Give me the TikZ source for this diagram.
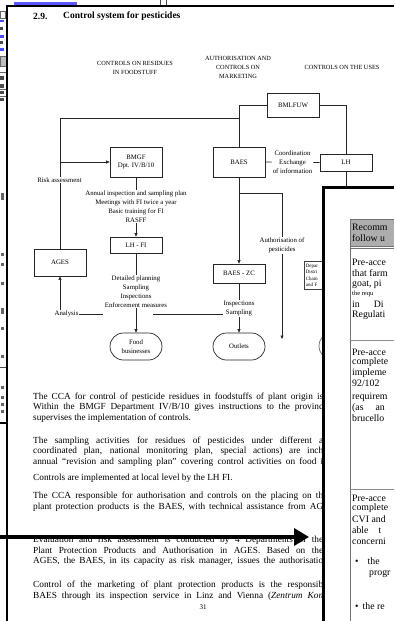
\documentclass[tikz,border=0pt]{standalone}
\usepackage{fontspec}
\setmainfont{Liberation Serif}
\usetikzlibrary{arrows.meta,shapes.misc}
\pgfdeclarelayer{back}
\pgfdeclarelayer{bg}
\pgfdeclarelayer{fg}
\pgfsetlayers{back,bg,main,fg}
\newcommand{\dfont}{\fontsize{6.8}{8.9}\selectfont}
\newcommand{\hfont}{\fontsize{6.3}{9}\selectfont}
\newcommand{\bfont}{\fontsize{9.3}{11}\selectfont}
\newcommand{\pfont}{\fontsize{9.8}{11}\selectfont}
\newcommand{\jl}[2][290pt]{\makebox[#1][s]{#2}}
\begin{document}
\begin{tikzpicture}[x=1pt,y=-1pt,
  ln/.style={line width=0.6pt,draw=black!85},
  arr/.style={ln,-{Triangle[length=3.5pt,width=3pt]}},
  box/.style={draw=black!85,line width=0.7pt,fill=white,minimum width=52pt,inner sep=0pt,align=center,font=\dfont},
  stad/.style={box,rounded rectangle,minimum height=27pt},
  lab/.style={align=center,font=\dfont,inner sep=0.8pt,fill=white},
  head/.style={align=center,font=\hfont,inner sep=0pt},
  body/.style={anchor=west,inner sep=0pt,font=\bfont},
  ptxt/.style={anchor=west,inner sep=0pt,font=\pfont},
]
\useasboundingbox (0,0) rectangle (394,621);
\begin{pgfonlayer}{back}
\fill[white] (0,0) rectangle (394,621);
\end{pgfonlayer}

% ---- left strip (window behind) ----
\fill[blue!65] (14,2) rectangle (77,5);
\draw[black!70,line width=0.6pt] (160,0) -- (160,6);
\draw[black!70,line width=0.6pt] (166,0) -- (166,6);
\draw[black!60,line width=0.5pt] (0,11) rectangle (5,18);
\fill[blue!70] (0,20) rectangle (4,22);
\fill[black!70] (0,27) rectangle (3,30);
\fill[blue!70] (0,35) rectangle (4,38);
\fill[black!70] (0,41) rectangle (3,44);
\fill[blue!70] (0,48) rectangle (4,51);
\fill[black!25] (0,56) rectangle (6,66);
\draw[black!60,line width=0.5pt] (0,56) rectangle (6,66);
\draw[black!60,line width=0.5pt] (0,72) -- (6,72);
\fill[black!70] (0,76) rectangle (4,80);
\fill[black!70] (0,84) rectangle (4,88);
\draw[black!60,line width=0.5pt] (0,89) -- (6,89);
\fill[black!70] (0,91) rectangle (4,94);
\draw[black!60,line width=0.5pt] (0,96) -- (6,96);
\fill[black!70] (0,98) rectangle (4,101);
\fill[black!60] (1,193) rectangle (4,200);
\fill[black!60] (1,253) rectangle (4,256);
\fill[black!60] (1,263) rectangle (4,266);
\fill[black!60] (1,282) rectangle (4,285);
\fill[black!60] (1,308) rectangle (4,314);
\fill[black!60] (1,327) rectangle (4,330);
\fill[black!60] (1,355) rectangle (4,358);
\draw[black!70,line width=0.6pt] (0,367) -- (6,367);
\fill[black!60] (1,386) rectangle (4,389);
\fill[black!60] (1,396) rectangle (4,399);
\fill[black!60] (1,403) rectangle (4,406);
\fill[black!60] (1,410) rectangle (4,413);
\draw[black,line width=1.5pt] (0,423) -- (7,423);

% ---- page frame ----
\draw[black,line width=2.5pt] (7,621) -- (7,6) -- (394,6);

% ---- title ----
\node[anchor=west,inner sep=0pt,font=\bfseries\fontsize{9.5}{11}\selectfont] (tnum) at (33,16) {2.9.};
\node[anchor=west,inner sep=0pt,font=\bfseries\fontsize{9.5}{11}\selectfont] (title) at (63,16) {Control system for pesticides};

% ---- headings ----
\node[head] (h1) at (135,67.5) {CONTROLS ON RESIDUES\\IN FOODSTUFF};
\node[head] (h2) at (238,67) {AUTHORISATION AND\\CONTROLS ON\\MARKETING};
\node[head] (h3) at (342,67) {CONTROLS ON THE USES};

% ---- boxes ----
\node[box,minimum height=24pt] (bml) at (293,105) {BMLFUW};
\node[box,minimum height=30pt] (baes) at (239,162) {BAES};
\node[box,minimum height=17pt] (lh) at (346,162.5) {LH};
\node[box,minimum height=19pt] (bzc) at (239,273.5) {BAES - ZC};
\node[box,minimum height=30pt] (bmgf) at (136,162) {BMGF\\Dpt. IV/B/10};
\node[box,minimum height=16pt] (lhfi) at (136,245) {LH - FI};
\node[box,minimum height=27pt] (ages) at (60,262.5) {AGES};
\node[stad] (food) at (136,346.5) {Food\\businesses};
\node[stad] (out) at (239,346.5) {Outlets};
\node[stad,draw=black!60] (use) at (345,346) {};
\node[draw=black!75,line width=0.6pt,fill=white,anchor=north west,text width=36pt,minimum height=28pt,inner sep=1.5pt,align=left,font=\fontsize{5}{6.4}\selectfont] (dep) at (304,261) {Depar\\Distri\\Cham\\and F};

% ---- labels ----
\node[lab] (annual) at (136,206.5) {Annual inspection and sampling plan\\Meetings with FI twice a year\\Basic training for FI\\RASFF};
\node[lab] (detail) at (136,291.5) {Detailed planning\\Sampling\\Inspections\\Enforcement measures};
\node[lab] (insp) at (239,308.5) {Inspections\\Sampling};
\node[lab] (an) at (66.5,314) {Analysis};
\node[lab] (risk) at (59.5,180) {Risk assessment};
\node[lab] (coord) at (292.5,162) {Coordination\\Exchange\\of information};
\node[lab] (auth) at (282,245.5) {Authorisation of\\pesticides};

% ---- connectors ----
\begin{pgfonlayer}{bg}
\coordinate (j1) at (239,118);
\coordinate (j2) at (60,162);
\coordinate (j3) at (239,193);
\coordinate (aend) at (282,339);
\coordinate (lhd) at (346,195);
\coordinate (gapL) at (103,314);
\coordinate (gapR) at (153,314);
\draw[ln] (bml.west) -| (baes.north);
\draw[ln] (j1) -| (ages.north);
\draw[arr] (j2) -- (bmgf.west);
\draw[ln] (bml.east) -| (lh.north);
\draw[ln] (baes.east) -- (lh.west);
\draw[ln] (lh.south) -- (lhd);
\draw[ln] (bmgf.south) -- (annual.north);
\draw[arr] (annual.south) -- (lhfi.north);
\draw[ln] (lhfi.south) -- (detail.north);
\draw[arr] (detail.south) -- (food.north);
\draw[arr] (baes.south) -- (bzc.north);
\draw[arr] (j3) -| (aend);
\draw[ln] (bzc.south) -- (insp.north);
\draw[arr] (insp.south) -- (out.north);
\draw[arr] (ages.south |- an.north) -- (ages.south);
\draw[ln] (an.east) -- (gapL);
\draw[ln] (gapR) -- (an.east -| insp.west);
\end{pgfonlayer}

% ---- body text ----
\node[body] (l1) at (33,397) {\jl{The CCA for control of pesticide residues in foodstuffs of plant origin is}};
\node[body] (l2) at (33,407.5) {\jl{Within the BMGF Department IV/B/10 gives instructions to the provinc}};
\node[body] (l3) at (33,418) {supervises the implementation of controls.};
\node[body] (l4) at (33,441) {\jl{The sampling activities for residues of pesticides under different a}};
\node[body] (l5) at (33,451.5) {\jl{coordinated plan, national monitoring plan, special actions) are inch}};
\node[body] (l6) at (33,462) {\jl{annual “revision and sampling plan” covering control activities on food i}};
\node[body] (l7) at (33,478.5) {Controls are implemented at local level by the LH FI.};
\node[body] (l8) at (33,496.5) {\jl{The CCA responsible for authorisation and controls on the placing on th}};
\node[body] (l9) at (33,507) {\jl{plant protection products is the BAES, with technical assistance from AG}};
\node[body] (l10) at (33,540) {\jl{Evaluation and risk assessment is conducted by 4 Departments of the}};
\node[body] (l11) at (33,550.5) {\jl{Plant Protection Products and Authorisation in AGES. Based on the}};
\node[body] (l12) at (33,561.5) {\jl{AGES, the BAES, in its capacity as risk manager, issues the authorisatio}};
\node[body] (l13) at (33,585) {\jl{Control of the marketing of plant protection products is the responsib}};
\node[body] (l14) at (33,596.5) {\jl{BAES through its inspection service in Linz and Vienna (\textit{Zentrum Kon}}};
\node[inner sep=0pt,font=\fontsize{7}{8}\selectfont] (pg) at (203,607) {31};

% ---- big arrow ----
\coordinate (as) at (0,537);
\coordinate (ae) at (309,537);
\draw[black,line width=3.5pt,-{Triangle[length=15pt,width=17pt]}] (as) -- (ae);

% ---- right panel (front window) ----
\begin{pgfonlayer}{fg}
\begin{scope}
\clip (323,187) rectangle (394,621);
\fill[white] (323,187) rectangle (394,621);
\fill[black!32] (350,219) rectangle (394,246);
\draw[black!55,line width=0.6pt] (350,219) -- (394,219);
\draw[black!55,line width=0.6pt] (350,246) -- (394,246);
\draw[black!55,line width=0.6pt] (350,248) -- (394,248);
\draw[black!55,line width=0.6pt] (350,219) -- (350,621);
\draw[black!45,line width=0.6pt] (350,340) -- (394,340);
\draw[black!45,line width=0.6pt] (350,489) -- (394,489);
\node[ptxt] (r0) at (352,227) {Recomm};
\node[ptxt] (r1) at (352,238) {follow u};
\node[ptxt] (a1) at (352,262) {Pre-acce};
\node[ptxt] (a2) at (352,273) {that farm};
\node[ptxt] (a3) at (352,284) {goat, pi};
\node[ptxt,font=\fontsize{6.5}{8}\selectfont] (a4) at (352,294) {the requ};
\node[ptxt] (a5) at (352,304) {in\hspace{14pt}Di};
\node[ptxt] (a6) at (352,315) {Regulati};
\node[ptxt] (b1) at (352,352) {Pre-acce};
\node[ptxt] (b2) at (352,362) {complete};
\node[ptxt] (b3) at (352,373) {impleme};
\node[ptxt] (b4) at (352,383) {92/102};
\node[ptxt] (b5) at (352,397) {requirem};
\node[ptxt] (b6) at (352,408) {(as\hspace{12pt}an};
\node[ptxt] (b7) at (352,418) {brucello};
\node[ptxt] (c1) at (352,498) {Pre-acce};
\node[ptxt] (c2) at (352,508) {complete};
\node[ptxt] (c3) at (352,519) {CVI and};
\node[ptxt] (c4) at (352,530) {able\hspace{10pt}t};
\node[ptxt] (c5) at (352,541) {concerni};
\node[ptxt] (c6) at (355,561) {•\hspace{9pt}the};
\node[ptxt] (c7) at (369,574) {progr};
\node[ptxt] (c8) at (355,606) {•\hspace{4pt}the re};
\end{scope}
\draw[black,line width=3pt] (323,621) -- (323,187) -- (394,187);
\end{pgfonlayer}
\end{tikzpicture}
\end{document}
